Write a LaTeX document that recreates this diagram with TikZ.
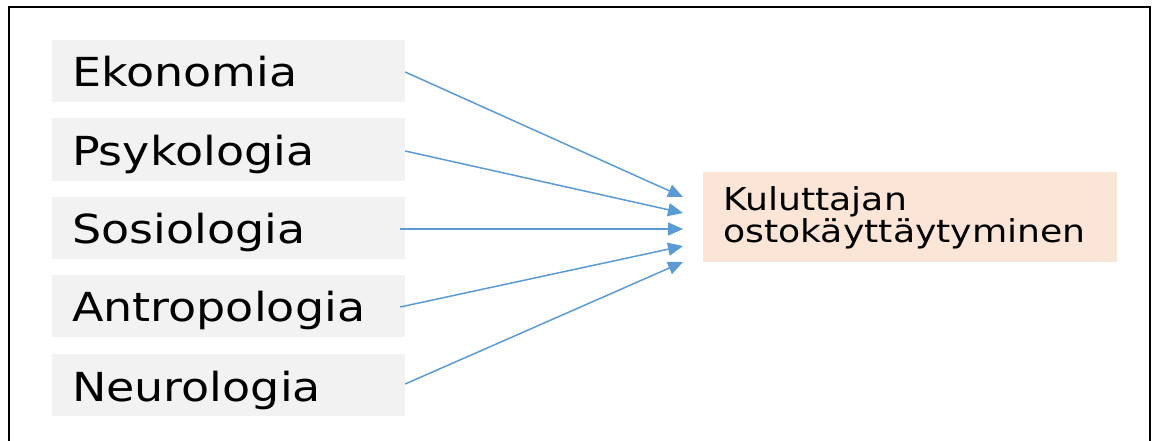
\documentclass[tikz,border=0pt]{standalone}
\usepackage{fontspec}
\setmainfont{DejaVu Sans}[FakeStretch=1.15]
\usetikzlibrary{arrows.meta}
\definecolor{fieldgray}{HTML}{F2F2F2}
\definecolor{peach}{HTML}{FBE5D6}
\definecolor{arrowblue}{HTML}{5B9BD5}
\begin{document}
\begin{tikzpicture}[x=1pt,y=-1pt,
  field/.style={fill=fieldgray, draw=none, minimum width=353pt, minimum height=62pt,
    inner xsep=20pt, inner ysep=12pt, text width=313pt, align=left,
    text height=35pt, text depth=3pt, font=\fontsize{40}{46}\selectfont},
  result/.style={fill=peach, draw=none, minimum width=414pt, minimum height=90pt},
  resulttext/.style={inner sep=0pt, align=left, font=\fontsize{31.5}{29}\selectfont},
  link/.style={draw=arrowblue, line width=1.5pt,
    -{Triangle[length=15pt,width=13pt]}}]
  \useasboundingbox (0,0) rectangle (1158,441);
  % open frame around the figure
  \draw[line width=2pt] (9,445) -- (9,7) -- (1150,7) -- (1150,445);

  % disciplines
  \node[field] (eko) at (228.5,71) {Ekonomia};
  \node[field] (psy) at (228.5,149.5) {Psykologia};
  \node[field] (sos) at (228.5,227.5) {Sosiologia};
  \node[field] (ant) at (228.5,305.5) {Antropologia};
  \node[field] (neu) at (228.5,385) {Neurologia};

  % outcome (the base anchor of a two-line node sits on its last line)
  \node[result] (kul) at (910,217) {};
  \node[resulttext, anchor=base west] (kultxt) at (723,242)
    {Kuluttajan\\ostokäyttäytyminen};

  % arrow tips in front of the outcome box
  \coordinate (t1) at (683,197);
  \coordinate (t2) at (683,213);
  \coordinate (t3) at (683,229);
  \coordinate (t4) at (683,246);
  \coordinate (t5) at (683,262);

  \draw[link] (eko.east |- 0,72) -- (t1);
  \draw[link] (psy.east |- 0,151) -- (t2);
  \draw[link] ([xshift=-5pt]sos.east |- 0,229) -- (t3);
  \draw[link] ([xshift=-5pt]ant.east |- 0,307) -- (t4);
  \draw[link] (neu.east |- 0,384) -- (t5);
\end{tikzpicture}
\end{document}
